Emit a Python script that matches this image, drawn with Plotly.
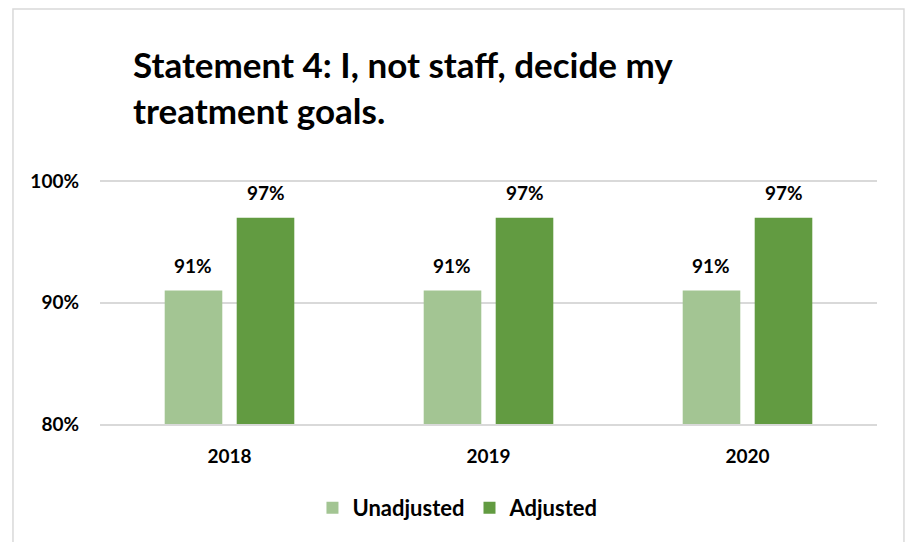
import plotly.graph_objects as go

# Survey results for statement 4, by year
years = ["2018", "2019", "2020"]
unadjusted = [91, 91, 91]
adjusted = [97, 97, 97]
y_ticks = [80, 90, 100]
y_tick_labels = ["80%", "90%", "100%"]

light_green = "#A3C593"
dark_green = "#629B41"
grid_grey = "#D9D9D9"
font_family = "Lato, Calibri, Carlito, sans-serif"

fig = go.Figure()
fig.add_trace(go.Bar(name="Unadjusted", x=years, y=unadjusted,
                     marker=dict(color=light_green, line=dict(width=0))))
fig.add_trace(go.Bar(name="Adjusted", x=years, y=adjusted,
                     marker=dict(color=dark_green, line=dict(width=0))))

# value labels above each bar (x given as category index)
for i, vals in enumerate([unadjusted, adjusted]):
    for k, v in enumerate(vals):
        fig.add_annotation(x=k, y=v, text=f"<b>{v}%</b>", showarrow=False,
                           xshift=-36.5 if i == 0 else 36.5, yshift=25,
                           font=dict(family=font_family, size=19, color="#000000"))

# chart frame
fig.add_shape(type="rect", xref="paper", yref="paper",
              x0=-0.112, x1=1.0347, y0=-0.52, y1=1.694,
              line=dict(color=grid_grey, width=1.5), fillcolor="rgba(0,0,0,0)", layer="below")

fig.update_layout(
    width=909, height=542,
    margin=dict(l=100, r=32, t=179, b=118),
    paper_bgcolor="white", plot_bgcolor="white",
    barmode="group", bargap=0.444, bargroupgap=0.2,
    font=dict(family=font_family, color="#000000"),
    title=dict(text="<b>Statement 4: I, not staff, decide my<br>treatment goals.</b>",
               x=133/909, xanchor="left", xref="container",
               y=1 - 78/542, yanchor="top", yref="container",
               font=dict(family=font_family, size=35, color="#000000")),
    legend=dict(orientation="h", x=0.4607, xanchor="center",
                y=-0.343, yanchor="middle",
                font=dict(family=font_family, size=22, color="#000000", weight="bold"),
                itemwidth=30, traceorder="normal"),
    showlegend=True,
)
fig.update_xaxes(type="category", range=[-0.5, 2.5], showgrid=False, showline=True,
                 linecolor=grid_grey, linewidth=1.5, ticks="",
                 tickfont=dict(family=font_family, size=19, weight="bold"),
                 ticklabelstandoff=14)
fig.update_yaxes(range=[80, 100.2], tickvals=y_ticks, ticktext=[f"<b>{t}</b>" for t in y_tick_labels],
                 showgrid=True, gridcolor=grid_grey, gridwidth=1.5, zeroline=False,
                 showline=False, ticks="",
                 tickfont=dict(family=font_family, size=19, weight="bold"),
                 ticklabelstandoff=20)

fig.write_html("out.html")
